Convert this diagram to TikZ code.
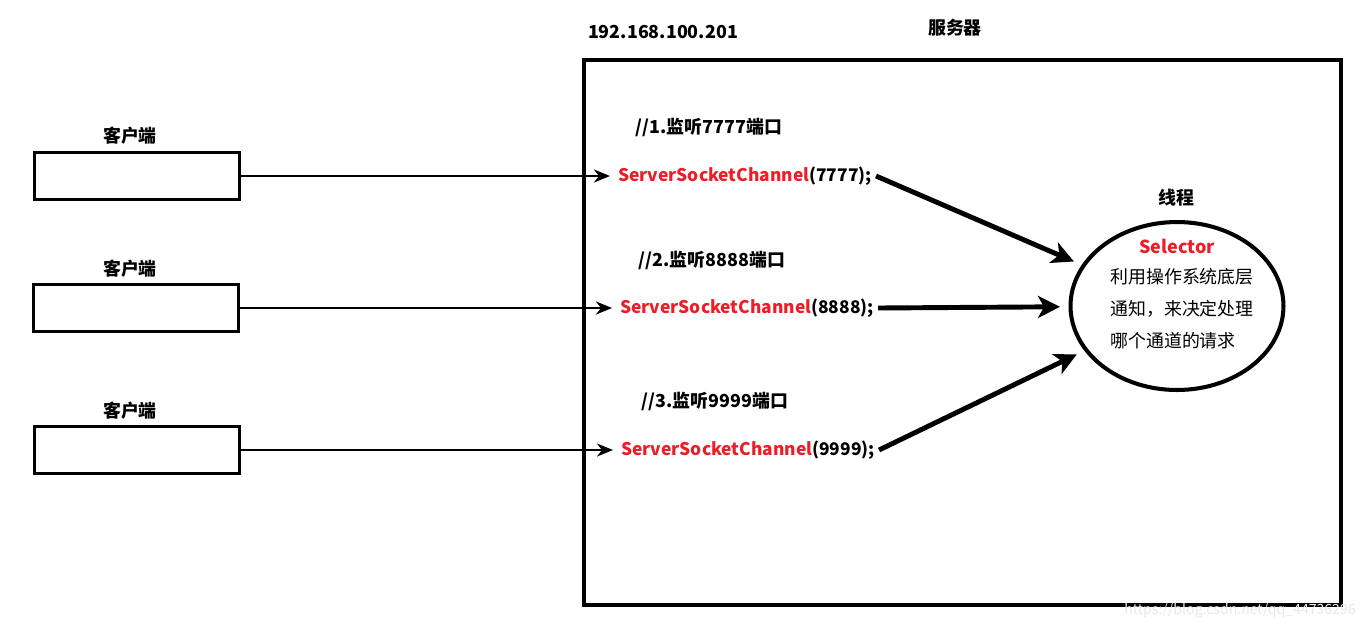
\documentclass[tikz,border=0pt]{standalone}
\usepackage{fontspec}
\setmainfont{Noto Sans CJK SC}
\usetikzlibrary{arrows.meta,shapes.geometric,positioning}
\definecolor{rojo}{RGB}{235,30,40}

\tikzset{
  cliente/.style={draw, line width=1.7pt, minimum width=4.12cm, minimum height=0.94cm, inner sep=0pt},
  etiq/.style={font=\bfseries\fontsize{10.2}{12}\selectfont},
  canal/.style={font=\bfseries\fontsize{9.9}{12}\selectfont, anchor=west, inner sep=0.08cm},
  linea/.style={font=\fontsize{10.2}{12}\selectfont, anchor=west, inner sep=0pt},
  flecha/.style={line width=1.4pt, shorten >=0.08cm, -{Stealth[length=3.2mm, width=2.6mm, inset=1mm]}},
  gruesa/.style={line width=2.8pt, shorten >=0.17cm, -{Stealth[length=4.4mm, width=4.4mm, inset=1.2mm]}},
}

\begin{document}
\begin{tikzpicture}[x=0.02cm, y=-0.02cm]
	\useasboundingbox (0,0) rectangle (1367,630);
	
	% Caja del servidor
	\draw[line width=2.3pt] (584,60) rectangle (1341,605);
	\node[etiq] (ip) at (663,32) {192.168.100.201};
	\node[etiq] (srv) at (955,28) {服务器};
	
	% Clientes
	\node[cliente] (c1) at (137,176) {};
	\node[cliente] (c2) at (136,308) {};
	\node[cliente] (c3) at (137,450) {};
	\node[etiq] (t1) at (130,136) {客户端};
	\node[etiq] (t2) at (130,269) {客户端};
	\node[etiq] (t3) at (130,411) {客户端};
	
	% Comentarios de los puertos
	\node[etiq] (k1) at (709,127) {//1.监听7777端口};
	\node[etiq] (k2) at (712,260) {//2.监听8888端口};
	\node[etiq] (k3) at (715,401) {//3.监听9999端口};
	
	% Canales
	\node[canal] (ch1) at (614,176) {\textcolor{rojo}{ServerSocketChannel}(7777);};
	\node[canal] (ch2) at (616,308) {\textcolor{rojo}{ServerSocketChannel}(8888);};
	\node[canal] (ch3) at (617,450) {\textcolor{rojo}{ServerSocketChannel}(9999);};
	
	% Selector (hilo)
	\node[etiq] (hilo) at (1176,198) {线程};
	\node[draw, ellipse, line width=2.3pt, minimum width=4.26cm, minimum height=3.36cm] (sel) at (1177,306) {};
	\node[etiq, text=rojo] (s0) at (1177,246) {Selector};
	\node[linea] (s1) at (1110,277) {利用操作系统底层};
	\node[linea] (s2) at (1110,309) {通知，来决定处理};
	\node[linea] (s3) at (1110,341) {哪个通道的请求};
	
	% Flechas
	\draw[flecha] (c1.east) -- (ch1.west);
	\draw[flecha] (c2.east) -- (ch2.west);
	\draw[flecha] (c3.east) -- (ch3.west);
	\draw[gruesa] (ch1.east) -- (sel);
	\draw[gruesa] (ch2.east) -- (sel);
	\draw[gruesa] (ch3.east) -- (sel);
	
	% Marca de agua
	\node[font=\fontsize{8}{9}\selectfont, text=gray!18] (wm) at (1240,611) {https://blog.csdn.net/qq\_44736296};
\end{tikzpicture}
\end{document}
